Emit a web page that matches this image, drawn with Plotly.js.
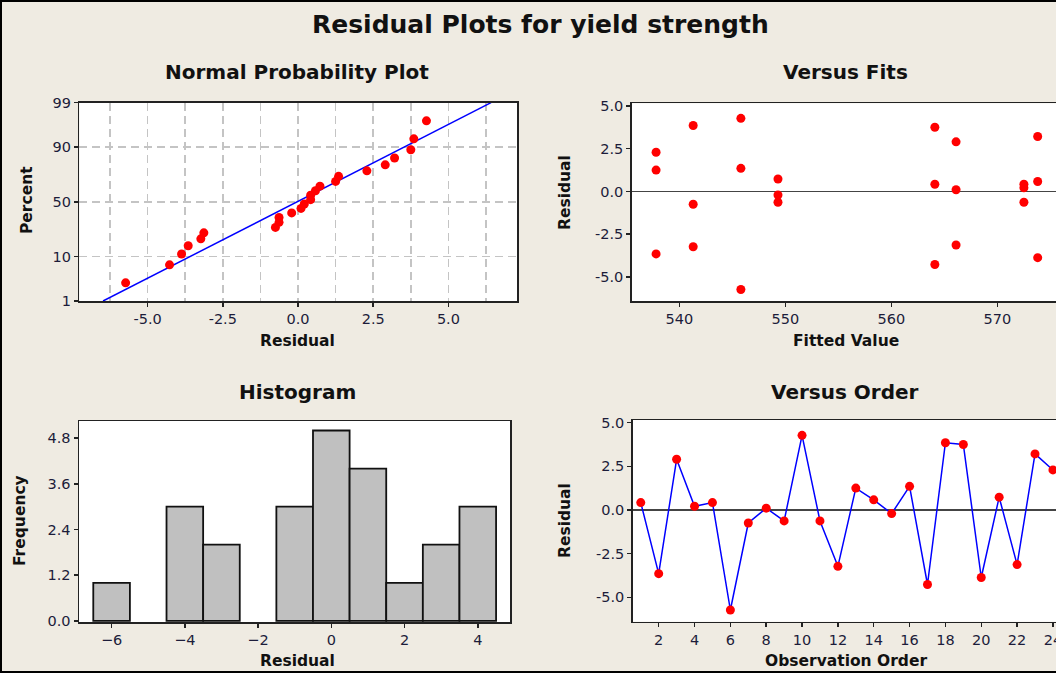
<!DOCTYPE html>
<html>
<head>
<meta charset="utf-8">
<script src="https://cdn.plot.ly/plotly-3.0.1.min.js"></script>
<style>
  html, body { margin: 0; padding: 0; overflow: hidden; background: #EFEBE2; }
  #chart { position: absolute; left: 0; top: 0; width: 1080px; height: 673px; }
  #frame { position: absolute; left: 0; top: 0; width: 1100px; height: 673px;
           border: 2px solid #000; box-sizing: border-box; pointer-events: none; }
</style>
</head>
<body>
<div id="chart"></div>
<div id="frame"></div>
<script>
// ---------------- data ----------------
const order = [1,2,3,4,5,6,7,8,9,10,11,12,13,14,15,16,17,18,19,20,21,22,23,24];
const residuals = [0.42,-3.65,2.90,0.21,0.42,-5.73,-0.75,0.10,-0.63,4.27,-0.63,-3.23,
                   1.25,0.58,-0.21,1.35,-4.27,3.85,3.75,-3.87,0.73,-3.13,3.21,2.29];
const fits = [564.1,537.8,566.1,572.5,572.5,545.8,541.3,566.1,549.3,545.8,572.5,541.3,
              537.8,573.8,549.3,545.8,564.1,541.3,564.1,573.8,549.3,566.1,573.8,537.8];
const percentTicks = [1,10,50,90,99];
const residualTicks = [-5,-2.5,0,2.5,5];
const fitTicks = [540,550,560,570];
const freqTicks = [0,1.2,2.4,3.6,4.8];
const histTicks = [-6,-4,-2,0,2,4];

// ---------------- normal-probability transform ----------------
function invNorm(p){
  const a=[-3.969683028665376e+01,2.209460984245205e+02,-2.759285104469687e+02,1.383577518672690e+02,-3.066479806614716e+01,2.506628277459239e+00];
  const b=[-5.447609879822406e+01,1.615858368580409e+02,-1.556989798598866e+02,6.680131188771972e+01,-1.328068155288572e+01];
  const c=[-7.784894002430293e-03,-3.223964580411365e-01,-2.400758277161838e+00,-2.549732539343734e+00,4.374664141464968e+00,2.938163982698783e+00];
  const d=[7.784695709041462e-03,3.224671290700398e-01,2.445134137142996e+00,3.754408661907416e+00];
  const pl=0.02425, ph=1-pl; let q,r;
  if(p<pl){q=Math.sqrt(-2*Math.log(p));return (((((c[0]*q+c[1])*q+c[2])*q+c[3])*q+c[4])*q+c[5])/((((d[0]*q+d[1])*q+d[2])*q+d[3])*q+1);}
  if(p<=ph){q=p-0.5;r=q*q;return (((((a[0]*r+a[1])*r+a[2])*r+a[3])*r+a[4])*r+a[5])*q/(((((b[0]*r+b[1])*r+b[2])*r+b[3])*r+b[4])*r+1);}
  q=Math.sqrt(-2*Math.log(1-p));return -(((((c[0]*q+c[1])*q+c[2])*q+c[3])*q+c[4])*q+c[5])/((((d[0]*q+d[1])*q+d[2])*q+d[3])*q+1);
}
const n = residuals.length;
const sorted = residuals.slice().sort((u,v)=>u-v);
const zScores = sorted.map((_,i)=>invNorm((i+1-0.3)/(n+0.4)));
const mean = residuals.reduce((s,v)=>s+v,0)/n;
const sd = Math.sqrt(residuals.reduce((s,v)=>s+(v-mean)*(v-mean),0)/(n-1));
const zTicks = percentTicks.map(p=>invNorm(p/100));
const zLo = zTicks[0], zHi = zTicks[zTicks.length-1];

// ---------------- layout helpers ----------------
const W = 1080, H = 673;
const dx = (l,r)=>[l/W, r/W];
const dy = (t,b)=>[1-b/H, 1-t/H];
const px = x=>x/W, py = y=>1-y/H;

const FONT = 'DejaVu Sans, Verdana, sans-serif';
const tickFont = {family: FONT, size: 14.5, color: '#1c1c3a'};
const axisBase = {
  showline: true, mirror: true, linecolor: '#222', linewidth: 1.5,
  ticks: 'outside', ticklen: 4, tickwidth: 1.5, tickcolor: '#222',
  tickfont: tickFont, showgrid: false, zeroline: false, fixedrange: true
};
const gridStyle = {gridcolor: '#c4c4c4', gridwidth: 1.5, griddash: '8px,5px'};

const RED = '#FF0000', BLUE = '#0000FF';

const traces = [
  // Normal probability plot
  {type:'scatter', mode:'lines', x:[mean+sd*zLo, mean+sd*zHi], y:[zLo, zHi],
   line:{color:BLUE, width:1.5}, xaxis:'x', yaxis:'y', hoverinfo:'skip'},
  {type:'scatter', mode:'markers', x:sorted, y:zScores,
   marker:{color:RED, size:9}, xaxis:'x', yaxis:'y'},
  // Versus fits
  {type:'scatter', mode:'markers', x:fits, y:residuals,
   marker:{color:RED, size:9}, xaxis:'x2', yaxis:'y2'},
  // Histogram
  {type:'histogram', x:residuals, autobinx:false,
   xbins:{start:-6.5, end:4.5, size:1},
   marker:{color:'#C0C0C0', line:{color:'#111', width:1.8}},
   xaxis:'x3', yaxis:'y3'},
  // Versus order
  {type:'scatter', mode:'lines+markers', x:order, y:residuals,
   line:{color:BLUE, width:1.5}, marker:{color:RED, size:9},
   xaxis:'x4', yaxis:'y4'}
];

const layout = {
  width: W, height: H,
  margin: {l:0, r:0, t:0, b:0},
  paper_bgcolor: '#EFEBE2', plot_bgcolor: '#FFFFFF',
  showlegend: false,
  font: {family: FONT, color: '#111'},
  xaxis: Object.assign({}, axisBase, gridStyle, {
    domain: dx(79.3, 517.3), range: [-7.27, 7.29], anchor: 'y',
    tickvals: residualTicks, ticktext: residualTicks.map(v=>v.toFixed(1)), showgrid: true,
    minor: Object.assign({dtick:1.25, tick0:0, showgrid:true, ticks:''}, gridStyle)
  }),
  yaxis: Object.assign({}, axisBase, gridStyle, {
    domain: dy(102.7, 301), range: [zLo, zHi], anchor: 'x',
    tickvals: zTicks, ticktext: percentTicks.map(String), showgrid: true
  }),
  xaxis2: Object.assign({}, axisBase, {
    domain: dx(631.7, 1061), range: [535.5, 576.0], anchor: 'y2', tickvals: fitTicks
  }),
  yaxis2: Object.assign({}, axisBase, {
    domain: dy(103.3, 301), range: [-6.4, 5.15], anchor: 'x2',
    tickvals: residualTicks, ticktext: residualTicks.map(v=>v.toFixed(1)),
    zeroline: true, zerolinecolor: '#444', zerolinewidth: 1.5
  }),
  xaxis3: Object.assign({}, axisBase, {
    domain: dx(79, 510), range: [-6.89, 4.88], anchor: 'y3', tickvals: histTicks
  }),
  yaxis3: Object.assign({}, axisBase, {
    domain: dy(421, 622), range: [-0.03, 5.25], anchor: 'x3',
    tickvals: freqTicks, ticktext: freqTicks.map(v=>v.toFixed(1))
  }),
  xaxis4: Object.assign({}, axisBase, {
    domain: dx(632.7, 1061), range: [0.55, 24.45], anchor: 'y4',
    tickvals: order.filter(v=>v%2===0)
  }),
  yaxis4: Object.assign({}, axisBase, {
    domain: dy(420, 621.7), range: [-6.4, 5.15], anchor: 'x4',
    tickvals: residualTicks, ticktext: residualTicks.map(v=>v.toFixed(1)),
    zeroline: true, zerolinecolor: '#444', zerolinewidth: 1.5
  }),
  bargap: 0,
  annotations: []
};

function label(text, x, y, size, angle){
  layout.annotations.push({text: '<b>'+text+'</b>', xref:'paper', yref:'paper',
    x: px(x), y: py(y), xanchor:'center', yanchor:'middle', showarrow:false,
    textangle: angle||0, font:{family: FONT, size: size, color:'#111'}});
}
label('Residual Plots for yield strength', 540, 25, 25);
label('Normal Probability Plot', 297, 72, 20);
label('Versus Fits', 845, 72, 20);
label('Histogram', 297, 392, 20);
label('Versus Order', 845, 392, 20);
label('Residual', 297, 341, 15.5);
label('Percent', 27, 200, 15.5, -90);
label('Fitted Value', 846, 341, 15.5);
label('Residual', 565, 193, 15.5, -90);
label('Residual', 297, 661, 15.5);
label('Frequency', 20, 521, 15.5, -90);
label('Observation Order', 846, 661, 15.5);
label('Residual', 565, 521, 15.5, -90);

Plotly.newPlot('chart', traces, layout, {displayModeBar:false, staticPlot:true});
</script>
</body>
</html>
